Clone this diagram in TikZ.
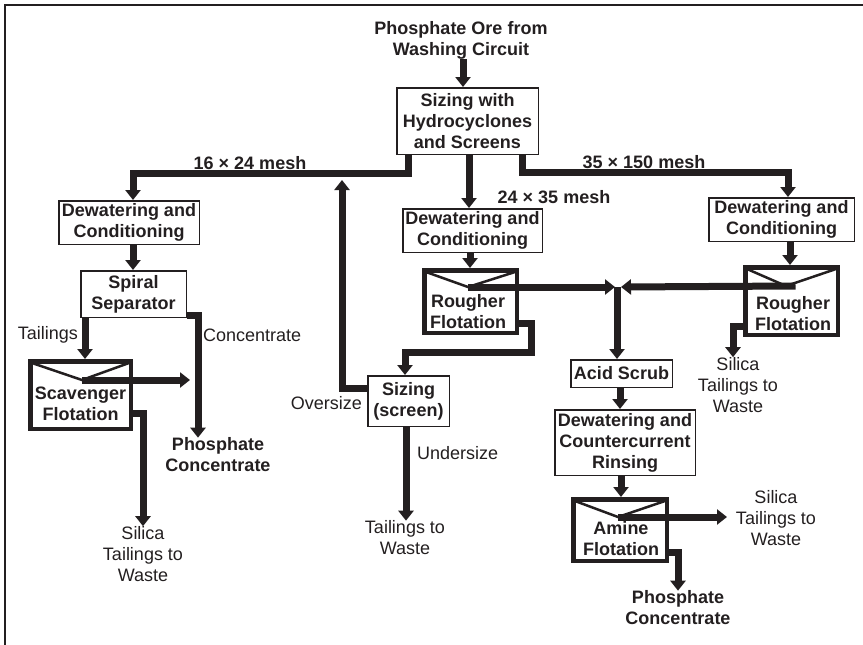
\documentclass[tikz,border=0pt]{standalone}
\usepackage{fontspec}
\setmainfont{Liberation Sans}
\usetikzlibrary{arrows.meta,calc}
\definecolor{ink}{RGB}{35,31,32}
\begin{document}
\begin{tikzpicture}[x=1pt,y=-1pt,
 every node/.style={text=ink},
 bt/.style={font=\bfseries\fontsize{18}{21}\selectfont, align=center, inner sep=0pt},
 rt/.style={font=\fontsize{18}{21}\selectfont, align=center, inner sep=0pt},
 box/.style={bt, draw=ink, line width=1.5pt},
 flot/.style={draw=ink, line width=4.5pt, inner sep=0pt},
 flow/.style={draw=ink, line width=7pt},
 arr/.style={flow, -{Triangle[width=15pt,length=10pt]}},
 vee/.style={draw=ink, line width=2.5pt}]
\useasboundingbox (0,0) rectangle (863,645);
\draw[ink, line width=2.5pt] (5,645) -- (5,5) -- (863,5);

% boxes
\node[bt] (feed) at (461,40) {Phosphate Ore from\\Washing Circuit};
\node[box, minimum width=141.5pt, minimum height=66.5pt] (sz) at (467.5,121) {Sizing with\\Hydrocyclones\\and Screens};
\node[box, minimum width=140.5pt, minimum height=43.5pt] (dw1) at (129,222.5) {Dewatering and\\Conditioning};
\node[box, minimum width=105.5pt, minimum height=46.5pt] (sp) at (133.5,294) {Spiral\\Separator};
\node[box, minimum width=139.5pt, minimum height=43.5pt] (dw2) at (472.5,230.5) {Dewatering and\\Conditioning};
\node[box, minimum width=81.5pt, minimum height=50.5pt] (ss) at (408.5,401) {Sizing\\(screen)};
\node[box, minimum width=145.5pt, minimum height=43.5pt] (dw3) at (781.5,219.5) {Dewatering and\\Conditioning};
\node[box, minimum width=101.5pt, minimum height=27.5pt] (ac) at (621.5,373.5) {Acid Scrub};
\node[box, minimum width=140.5pt, minimum height=65.5pt] (dcr) at (625,442.5) {Dewatering and\\Countercurrent\\Rinsing};

% flotation cells
\node[flot, minimum width=100.5pt, minimum height=67.5pt] (sc) at (80.5,395) {};
\node[bt] (sct) at (80.5,404) {Scavenger\\Flotation};
\node[flot, minimum width=92.5pt, minimum height=62.5pt] (rf1) at (470.5,301.5) {};
\node[bt] (rf1t) at (468,312) {Rougher\\Flotation};
\node[flot, minimum width=92.5pt, minimum height=67.5pt] (rf2) at (791.5,301) {};
\node[bt] (rf2t) at (793,314) {Rougher\\Flotation};
\node[flot, minimum width=93.5pt, minimum height=61.5pt] (am) at (620,530) {};
\node[bt] (amt) at (621,539) {Amine\\Flotation};

\coordinate (vsc) at (82,380);
\coordinate (vrf1) at (468,287);
\coordinate (vrf2) at (786,286);
\coordinate (vam) at (618,517);
\draw[vee] ([shift={(4,4)}]sc.north west) -- (vsc) -- ([shift={(-4,4)}]sc.north east);
\draw[vee] ([shift={(4,4)}]rf1.north west) -- (vrf1) -- ([shift={(-4,4)}]rf1.north east);
\draw[vee] ([shift={(4,4)}]rf2.north west) -- (vrf2) -- ([shift={(-4,4)}]rf2.north east);
\draw[vee] ([shift={(4,4)}]am.north west) -- (vam) -- ([shift={(-4,4)}]am.north east);

% product / waste texts
\node[bt] (pc1) at (218,455) {Phosphate\\Concentrate};
\node[rt] (st1) at (143,554) {Silica\\Tailings to\\Waste};
\node[rt] (tw) at (405,538) {Tailings to\\Waste};
\node[rt] (st2) at (738,385) {Silica\\Tailings to\\Waste};
\node[rt] (st3) at (776,518) {Silica\\Tailings to\\Waste};
\node[bt] (pc2) at (678,608) {Phosphate\\Concentrate};

% labels
\node[bt] (m1) at (250,163) {16 × 24 mesh};
\node[bt] (m2) at (644,162) {35 × 150 mesh};
\node[bt] (m3) at (554,197) {24 × 35 mesh};
\node[rt, anchor=east] (ltail) at (78,335) {Tailings};
\node[rt, anchor=west] (lconc) at (203,335) {Concentrate};
\node[rt, anchor=east] (lover) at (362,403) {Oversize};
\node[rt, anchor=west] (lunder) at (417,453) {Undersize};

% connectors
\coordinate (jn) at (617,287);
\coordinate (scout) at (190,380);
\coordinate (amout) at (727,517);
\coordinate (overtip) at (342,180);

\draw[arr] (feed.south -| 463,0) -- (sz.north -| 463,0);
\draw[arr] (sz.south -| 408,0) -- (408,173) -- (133,173) -- (dw1.north -| 133,0);
\draw[arr] (sz.south -| 469,0) -- (dw2.north -| 469,0);
\draw[arr] (sz.south -| 522,0) -- (522,172) -- (788,172) -- (dw3.north -| 788,0);
\draw[arr] (dw1.south -| 133,0) -- (sp.north -| 133,0);
\draw[arr] (sp.south -| 85,0) -- (sc.north -| 85,0);
\draw[arr] (sp.east |- 0,315) -- (198,315) -- (pc1.north -| 198,0);
\draw[arr] (vsc) -- (scout);
\draw[arr] (sc.east |- 0,413) -- (143,413) -- (st1.north -| 143,0);
\draw[arr] (dw2.south -| 470,0) -- (rf1.north -| 470,0);
\draw[arr] (vrf1) -- ([xshift=-2pt]jn);
\draw[arr] (rf2.center |- vrf2) ++(4,0) -- ([xshift=4pt]jn);
\draw[arr] (jn) -- (ac.north -| jn);
\draw[arr] (rf1.east |- 0,323) -- (531,323) -- (531,352) -- (405,352) -- (ss.north -| 405,0);
\draw[arr] (ss.west |- 0,388) -- (342,388) -- (overtip);
\draw[arr] (ss.south -| 406,0) -- (tw.north -| 406,0);
\draw[arr] (dw3.south -| 790,0) -- (rf2.north -| 790,0);
\draw[arr] (rf2.west |- 0,326) -- (733,326) -- (st2.north -| 733,0);
\draw[arr] (ac.south -| 620,0) -- (dcr.north -| 620,0);
\draw[arr] (dcr.south -| 621,0) -- (am.north -| 621,0);
\draw[arr] (vam) -- (amout);
\draw[arr] (am.east |- 0,552) -- (678,552) -- (pc2.north -| 678,0);
\end{tikzpicture}
\end{document}
